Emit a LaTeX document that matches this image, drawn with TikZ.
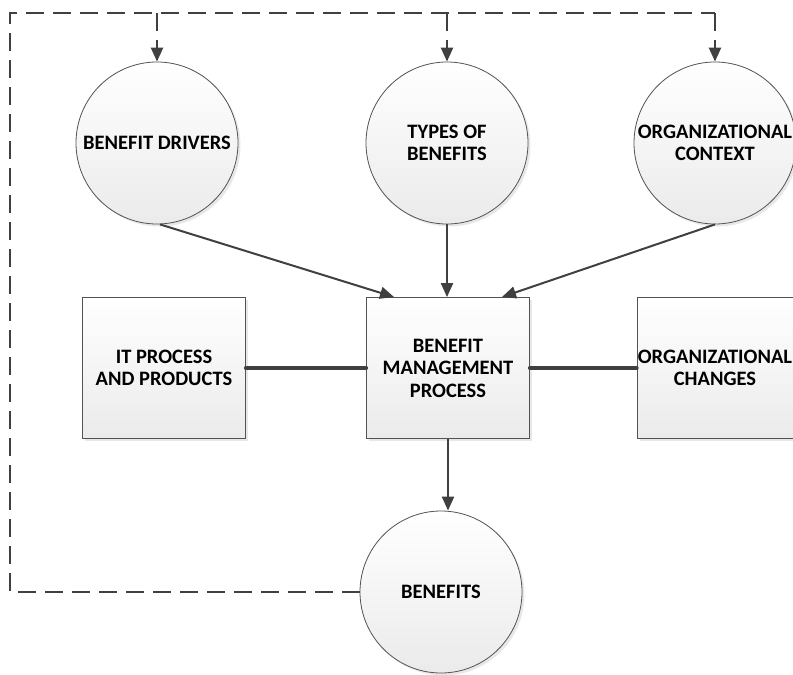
\documentclass[tikz,border=0pt]{standalone}
\usepackage{fontspec}
\setmainfont{Carlito}
\usetikzlibrary{arrows.meta,shadows}
\definecolor{ink}{HTML}{404040}
\tikzset{
  shape base/.style={draw=ink!90, line width=0.8pt, top color=white, bottom color=black!8,
    drop shadow={shadow xshift=2.5pt, shadow yshift=-2.5pt, opacity=0.18, fill=black!50},
    font=\fontsize{20.5}{22.5}\selectfont\bfseries, align=center, inner sep=0pt},
  topic/.style={shape base, circle, minimum size=162pt},
  stage/.style={shape base, rectangle, minimum width=163pt, minimum height=141pt},
  flow/.style={draw=ink, line width=2pt, -{Triangle[length=14pt,width=12pt]}},
  link/.style={draw=ink, line width=4pt, line cap=round},
  feedback/.style={draw=ink, line width=2.3pt, dash pattern=on 18pt off 9pt},
  feedtip/.style={feedback, -{Triangle[length=14pt,width=12pt]}}
}
\begin{document}
\begin{tikzpicture}[x=1pt,y=-1pt]
  \useasboundingbox (0,0) rectangle (793,675);
  \begin{scope}
  \clip (0,0) rectangle (793,675);

  % influences on the process
  \node[topic] (drv) at (157,143) {BENEFIT DRIVERS};
  \node[topic] (typ) at (447,143) {TYPES OF\\BENEFITS};
  \node[topic] (ctx) at (715,143) {ORGANIZATIONAL\\CONTEXT};

  % process row
  \node[stage] (itp) at (164,368) {IT PROCESS\\AND PRODUCTS};
  \node[stage] (bmp) at (448,368) {BENEFIT\\MANAGEMENT\\PROCESS};
  \node[stage, minimum width=156pt] (chg) at (715,368) {ORGANIZATIONAL\\CHANGES};

  % outcome
  \node[topic] (ben) at (441,592) {BENEFITS};

  % solid flows
  \coordinate (drvin) at (394,297);
  \coordinate (ctxin) at (502,297);
  \draw[flow] (drv.south) ++(3,0) -- (drvin);
  \draw[flow] (typ.south) -- (typ.south |- bmp.north);
  \draw[flow] (ctx.south) -- (ctxin);
  \draw[flow] (bmp.south) -- (bmp.south |- ben.north);

  % lateral links
  \draw[link] (itp.east) -- (bmp.west);
  \draw[link] (bmp.east) -- (chg.west);

  % feedback loop
  \coordinate (tl) at (10,13);
  \coordinate (tr) at (715,13);
  \draw[feedback] (ben.west) -| (tl) -- (tr);
  \draw[feedtip] (tr) -- (ctx.north);
  \draw[feedtip] (drv.north |- tl) -- (drv.north);
  \draw[feedtip] (typ.north |- tl) -- (typ.north);
  \end{scope}
\end{tikzpicture}
\end{document}
